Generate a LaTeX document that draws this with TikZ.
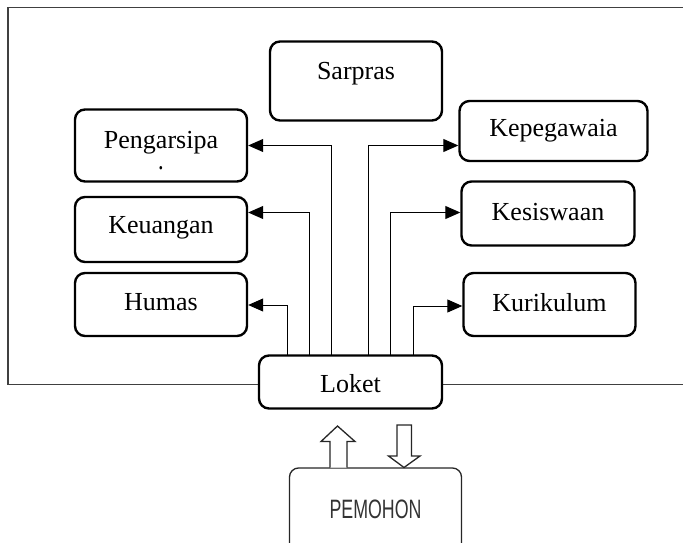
\documentclass[tikz,border=0pt]{standalone}
\usepackage{fontspec}
\setmainfont{Liberation Serif}
\newfontfamily\pemfont[FakeStretch=0.89]{Liberation Sans}
\usetikzlibrary{arrows.meta}
\tikzset{
  unit/.style={draw=black, line width=2.4pt, rounded corners=10pt, fill=white, inner sep=0pt},
  lbl/.style={font=\fontsize{26}{29}\selectfont, inner sep=0pt},
  link/.style={draw=black, line width=1pt, -{Triangle[length=15pt,width=13pt]}},
  frameline/.style={draw=black!75, line width=1.6pt},
  hollow/.style={draw=black!85, line width=1.3pt, fill=white, line join=miter},
}
\begin{document}
\begin{tikzpicture}[x=1pt,y=-1pt]
\useasboundingbox (0,0) rectangle (683,543);
\clip (0,0) rectangle (683,543);
% outer frame
\draw[frameline] (700,7.6) -- (7.7,7.6) -- (7.7,384.5) -- (700,384.5);
% boxes
\node[unit, minimum width=172pt, minimum height=79pt] (sarpras) at (356,81) {};
\node[lbl] (tsarpras) at (356,74) {Sarpras};
\node[unit, minimum width=172pt, minimum height=72pt] (arsip) at (161,145.5) {};
\node[lbl, anchor=base] (tarsip) at (161,148) {Pengarsipa};
\node[inner sep=0pt, anchor=base, font=\fontsize{16}{16}\selectfont] (tdot) at (161,169) {\scalebox{1.4}[1.8]{.}};
\node[unit, minimum width=172pt, minimum height=65pt] (keu) at (161,229.5) {};
\node[lbl] (tkeu) at (161,227.5) {Keuangan};
\node[unit, minimum width=172pt, minimum height=63pt] (humas) at (161,304.5) {};
\node[lbl] (thumas) at (161,302) {Humas};
\node[unit, minimum width=188pt, minimum height=60pt] (pegawai) at (553.5,131) {};
\node[lbl] (tpegawai) at (553.5,131) {Kepegawaia};
\node[unit, minimum width=173pt, minimum height=64pt] (siswa) at (548,213.5) {};
\node[lbl] (tsiswa) at (548,212) {Kesiswaan};
\node[unit, minimum width=172pt, minimum height=63pt] (kuri) at (549.5,304.5) {};
\node[lbl] (tkuri) at (549.5,302.5) {Kurikulum};
\node[unit, minimum width=183pt, minimum height=53pt] (loket) at (350.5,382) {};
\node[lbl] (tloket) at (350.5,384) {Loket};
% connectors
\coordinate (h0) at (287,355.5);
\coordinate (k0) at (309,355.5);
\coordinate (a0) at (331.5,355.5);
\coordinate (p0) at (368,355.5);
\coordinate (s0) at (390,355.5);
\coordinate (c0) at (413.5,355.5);
\draw[link] (h0) |- (humas.east |- 0,305);
\draw[link] (k0) |- (keu.east |- 0,212.5);
\draw[link] (a0) |- (arsip.east |- 0,145.5);
\draw[link] (p0) |- (pegawai.west |- 0,145.5);
\draw[link] (s0) |- (siswa.west |- 0,212.5);
\draw[link] (c0) |- (kuri.west |- 0,306);
% PEMOHON
\node[draw=black!85, line width=1.3pt, rounded corners=9pt, fill=white,
  minimum width=172pt, minimum height=120pt, inner sep=0pt] (pem) at (375.5,528) {};
\node[text=black!80, inner sep=0pt] (tpem) at (375.5,509) {\scalebox{1}[1.33]{\pemfont\fontsize{20}{22}\selectfont PEMOHON}};
% hollow arrows between PEMOHON and Loket
\coordinate (up0) at (338.5,467.5);
\coordinate (dn0) at (404,467.5);
\draw[hollow] (up0) ++(-8.5,0) -- ++(0,-26) -- ++(-9,0) -- (337.5,426) -- (355,441.5) -- (347,441.5) -- (347,467.5);
\draw[hollow] (dn0) ++(-7,-42.5) -- ++(0,31) -- ++(-8.5,0) -- (dn0) -- (420,456) -- (411.5,456) -- (411.5,425) -- cycle;
\end{tikzpicture}
\end{document}
